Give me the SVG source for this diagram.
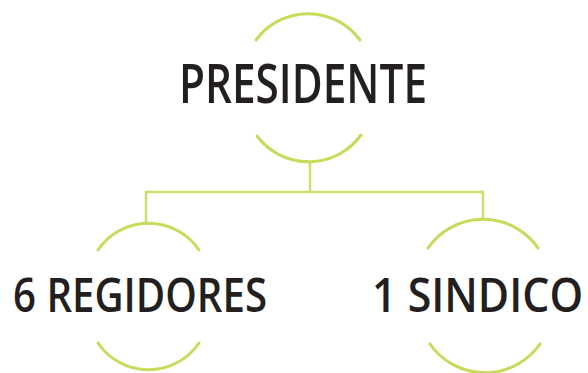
<svg xmlns="http://www.w3.org/2000/svg" width="588" height="373" viewBox="0 0 588 373">
<style>
.arc{fill:none;stroke:#c9da5c;stroke-width:3;stroke-linecap:round}
.con{fill:none;stroke:#cfdd6a;stroke-width:2.5}
.lbl{font-family:"Open Sans","Liberation Sans",sans-serif;font-weight:600;fill:#231f20}
</style>
<rect width="588" height="373" fill="#ffffff"/>
<g id="connectors">
<path class="con" d="M310 163 V192 M146 224 V192 H483 V220"/>
</g>
<g id="presidente">
<path class="arc" d="M256 40 A64.5 64.5 0 0 1 360 40"/>
<path class="arc" d="M257 136 A64.5 64.5 0 0 0 361 135"/>
<text class="lbl" x="179" y="103" font-size="55" textLength="248" lengthAdjust="spacingAndGlyphs">PRESIDENTE</text>
</g>
<g id="regidores">
<path class="arc" d="M98 250 A61 61 0 0 1 199 250"/>
<path class="arc" d="M98 343 A61 61 0 0 0 199 343"/>
<text class="lbl" x="13" y="312" font-size="47" textLength="254" lengthAdjust="spacingAndGlyphs">6 REGIDORES</text>
</g>
<g id="sindico">
<path class="arc" d="M428 248 A67 67 0 0 1 538 248"/>
<path class="arc" d="M430 344 A67 67 0 0 0 540 344"/>
<text class="lbl" transform="translate(372 312) scale(0.8 1)" x="0" y="0" font-size="47" textLength="264" lengthAdjust="spacingAndGlyphs">1 SINDICO</text>
</g>
</svg>
